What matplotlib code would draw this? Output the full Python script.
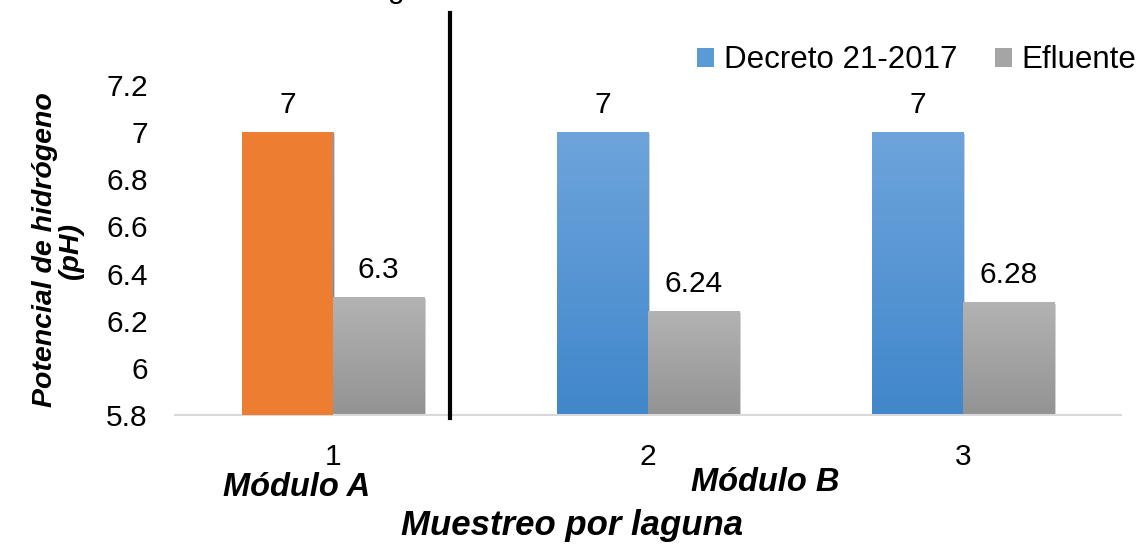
import numpy as np
import matplotlib
matplotlib.use("Agg")
import matplotlib.pyplot as plt
from matplotlib.colors import LinearSegmentedColormap
from matplotlib.patches import Patch
import matplotlib.patheffects as pe

plt.rcParams['font.family'] = ['Liberation Sans', 'DejaVu Sans']

# muestreo por laguna
lagunas = ['1', '2', '3']
decreto = [7, 7, 7]
efluente = [6.3, 6.24, 6.28]
decreto_labels = ['7', '7', '7']
efluente_labels = ['6.3', '6.24', '6.28']

fig = plt.figure(figsize=(11.41, 5.56), dpi=100)
ax = fig.add_axes([0.1538, 0.2536, 0.8283, 0.5934])

ymin = 5.8
x = np.arange(1, len(lagunas) + 1)
w = 0.289

blue_cm = LinearSegmentedColormap.from_list('azul', ['#4087cb', '#6ea4dc'])
gray_cm = LinearSegmentedColormap.from_list('gris', ['#939393', '#b3b3b3'])
grad = np.linspace(0, 1, 256).reshape(-1, 1)
shadow = [pe.SimplePatchShadow(offset=(1.5, -1.5), alpha=0.25)]

def fill_gradient(bars, cmap):
    for b in bars:
        x0, y0 = b.get_x(), b.get_y()
        im = ax.imshow(grad, extent=[x0, x0 + b.get_width(), y0, y0 + b.get_height()],
                       origin='lower', aspect='auto', cmap=cmap, zorder=2)
        im.set_clip_path(b)

b1 = ax.bar(x - w / 2, np.array(decreto) - ymin, w, bottom=ymin, color='white', zorder=2)
b2 = ax.bar(x + w / 2, np.array(efluente) - ymin, w, bottom=ymin, color='white', zorder=2)
for b in list(b1) + list(b2):
    b.set_path_effects(shadow)
fill_gradient(b1, blue_cm)
fill_gradient(b2, gray_cm)
# la laguna del módulo A va en naranja
ax.bar(x[0] - w / 2, decreto[0] - ymin, w, bottom=ymin, color='#ed7d31', zorder=3)

fs = 21.5
for xi, v, t in zip(x - w / 2, decreto, decreto_labels):
    ax.text(xi, v + 0.055, t, ha='center', va='bottom', fontsize=fs)
for xi, v, t in zip(x + w / 2, efluente, efluente_labels):
    ax.text(xi, v + 0.055, t, ha='center', va='bottom', fontsize=fs)

ax.set_xlim(0.5, 3.5)
ax.set_ylim(ymin, 7.2)
ax.set_yticks(np.arange(5.8, 7.21, 0.2))
ax.set_yticklabels(['5.8', '6', '6.2', '6.4', '6.6', '6.8', '7', '7.2'])
ax.set_xticks(x)
ax.set_xticklabels(lagunas)
ax.tick_params(length=0, labelsize=fs)
ax.tick_params(axis='y', pad=20)
ax.tick_params(axis='x', pad=20)
for s in ['top', 'right', 'left']:
    ax.spines[s].set_visible(False)
ax.spines['bottom'].set_color('#d9d9d9')
ax.spines['bottom'].set_linewidth(1.5)

# separador entre módulos
ax.plot([1.371, 1.371], [5.787, 7.505], color='black', lw=3, clip_on=False, zorder=5)

bi = dict(fontweight='bold', fontstyle='italic')
ax.set_ylabel('Potencial de hidrógeno\n(pH)', fontsize=20.5, labelpad=16,
              linespacing=1.0, **bi)
fig.text(0.260, 0.123, 'Módulo A', ha='center', va='center', fontsize=23.5, **bi)
fig.text(0.671, 0.132, 'Módulo B', ha='center', va='center', fontsize=23.5, **bi)
fig.text(0.501, 0.054, 'Muestreo por laguna', ha='center', va='center', fontsize=25, **bi)
fig.text(0.01, 1.003, 'Gráfica 1. Potencial de hidrógeno en efluente', ha='left',
         va='baseline', fontsize=fs)

handles = [Patch(facecolor='#5b9bd5'), Patch(facecolor='#a5a5a5')]
fig.legend(handles, ['Decreto 21-2017', 'Efluente'], loc='upper right',
           bbox_to_anchor=(1.015, 0.958), ncol=2, frameon=False, fontsize=22.5,
           handlelength=0.55, handleheight=0.55, handletextpad=0.3, columnspacing=1.2,
           borderpad=0.2)

fig.savefig('out.png', dpi=100)
